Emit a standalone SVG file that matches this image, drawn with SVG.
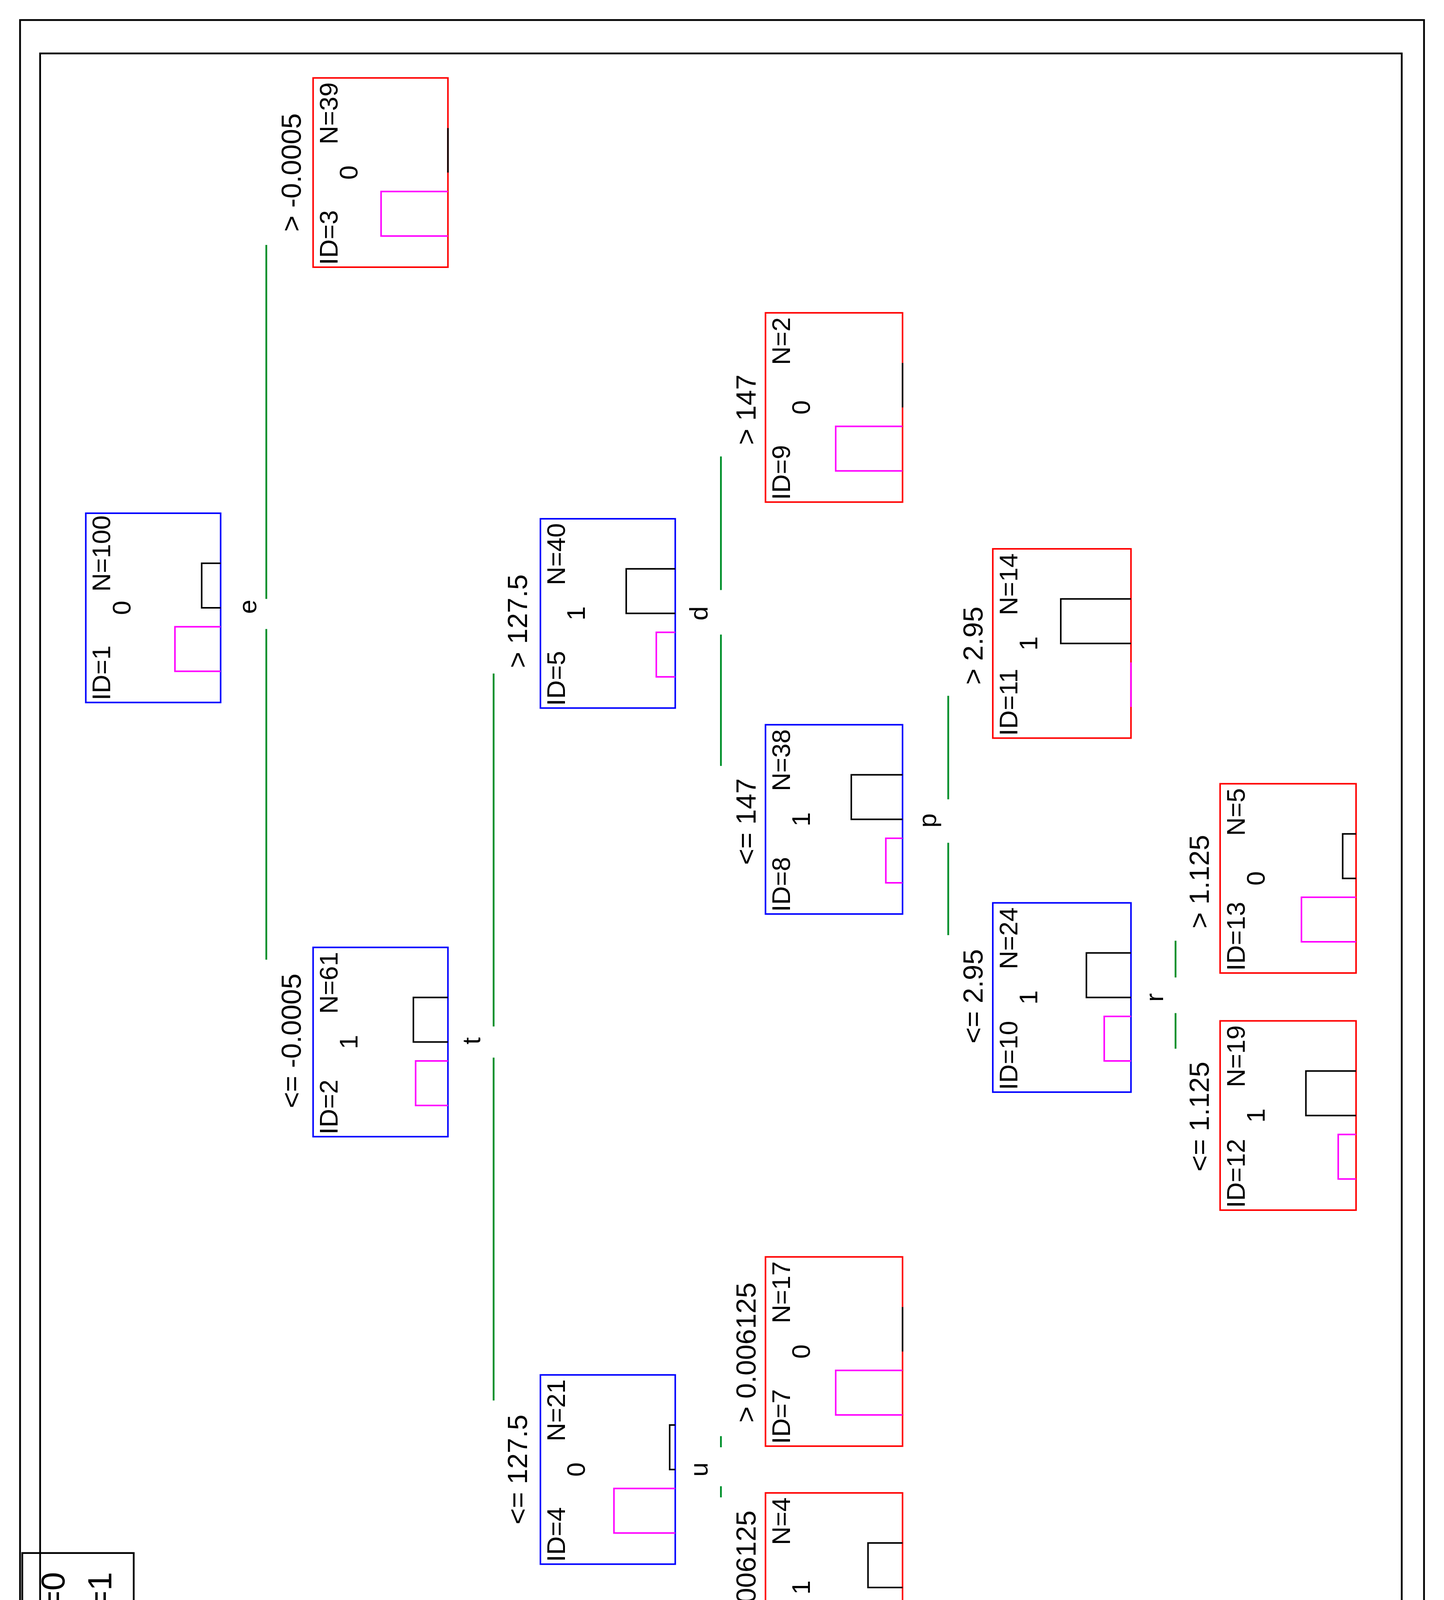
<svg xmlns="http://www.w3.org/2000/svg" width="3696" height="4469" viewBox="0 0 3696 4469">
<style>
text{font-family:"Liberation Sans",Arial,sans-serif;font-size:23px;fill:#000}
.lbl{font-size:25px}
.b{fill:none;stroke:#0000ff;stroke-width:1.4}
.r{fill:none;stroke:#ff0000;stroke-width:1.4}
.m{fill:none;stroke:#ff00ff;stroke-width:1.4}
.k{fill:none;stroke:#000;stroke-width:1.4}
.g{stroke:#008f2a;stroke-width:1.6}
.f{fill:none;stroke:#000;stroke-width:1.6}
</style>
<rect width="3696" height="4469" fill="#fff"/>
<g transform="scale(2.852 2.85)">
<rect class="f" x="18" y="18" width="1260" height="1535"/>
<rect class="f" x="36" y="48" width="1222" height="1485"/>
<g id="connectors">
<line class="g" x1="239" y1="220" x2="239" y2="538"/><line class="g" x1="239" y1="565" x2="239" y2="862"/>
<line class="g" x1="443" y1="605" x2="443" y2="922"/><line class="g" x1="443" y1="950" x2="443" y2="1258"/>
<line class="g" x1="647" y1="410" x2="647" y2="530"/><line class="g" x1="647" y1="570" x2="647" y2="688"/>
<line class="g" x1="647" y1="1290" x2="647" y2="1300"/><line class="g" x1="647" y1="1335" x2="647" y2="1345"/>
<line class="g" x1="851" y1="625" x2="851" y2="718"/><line class="g" x1="851" y1="757" x2="851" y2="840"/>
<line class="g" x1="1055" y1="845" x2="1055" y2="878"/><line class="g" x1="1055" y1="910" x2="1055" y2="942"/>
<g text-anchor="middle">
<text transform="translate(230,545) rotate(-90)">e</text>
<text transform="translate(431,935) rotate(-90)">t</text>
<text transform="translate(635,551) rotate(-90)">d</text>
<text transform="translate(635,1320) rotate(-90)">u</text>
<text transform="translate(840,737) rotate(-90)">p</text>
<text transform="translate(1044,896) rotate(-90)">r</text>
<text class="lbl" transform="translate(270,155) rotate(-90)">&gt; -0.0005</text>
<text class="lbl" transform="translate(270,935) rotate(-90)">&lt;= -0.0005</text>
<text class="lbl" transform="translate(473,558) rotate(-90)">&gt; 127.5</text>
<text class="lbl" transform="translate(473,1320) rotate(-90)">&lt;= 127.5</text>
<text class="lbl" transform="translate(678,368) rotate(-90)">&gt; 147</text>
<text class="lbl" transform="translate(678,738) rotate(-90)">&lt;= 147</text>
<text class="lbl" transform="translate(678,1215) rotate(-90)">&gt; 0.006125</text>
<text class="lbl" transform="translate(678,1427) rotate(-90)">&lt;= 0.006125</text>
<text class="lbl" transform="translate(882,580) rotate(-90)">&gt; 2.95</text>
<text class="lbl" transform="translate(882,895) rotate(-90)">&lt;= 2.95</text>
<text class="lbl" transform="translate(1085,792) rotate(-90)">&gt; 1.125</text>
<text class="lbl" transform="translate(1085,1003) rotate(-90)">&lt;= 1.125</text>
</g>
</g>
<g id="n1" transform="translate(77,461)"><rect class="b" width="121" height="170"/><path class="k" d="M121,45H104V85H121"/><path class="m" d="M121,102H80V142H121"/><text transform="translate(22,168) rotate(-90)">ID=1</text><text transform="translate(40,85) rotate(-90)" text-anchor="middle">0</text><text transform="translate(22,2) rotate(-90)" text-anchor="end">N=100</text></g>
<g id="n3" transform="translate(281,70)"><rect class="r" width="121" height="170"/><path class="k" d="M121,45V85"/><path class="m" d="M121,102H61V142H121"/><text transform="translate(22,168) rotate(-90)">ID=3</text><text transform="translate(40,85) rotate(-90)" text-anchor="middle">0</text><text transform="translate(22,4) rotate(-90)" text-anchor="end">N=39</text></g>
<g id="n2" transform="translate(281,851)"><rect class="b" width="121" height="170"/><path class="k" d="M121,45H90V85H121"/><path class="m" d="M121,102H92V142H121"/><text transform="translate(22,168) rotate(-90)">ID=2</text><text transform="translate(40,85) rotate(-90)" text-anchor="middle">1</text><text transform="translate(22,4) rotate(-90)" text-anchor="end">N=61</text></g>
<g id="n5" transform="translate(485,466)"><rect class="b" width="121" height="170"/><path class="k" d="M121,45H77V85H121"/><path class="m" d="M121,102H104V142H121"/><text transform="translate(22,168) rotate(-90)">ID=5</text><text transform="translate(40,85) rotate(-90)" text-anchor="middle">1</text><text transform="translate(22,4) rotate(-90)" text-anchor="end">N=40</text></g>
<g id="n4" transform="translate(485,1235)"><rect class="b" width="121" height="170"/><path class="k" d="M121,45H116V85H121"/><path class="m" d="M121,102H66V142H121"/><text transform="translate(22,168) rotate(-90)">ID=4</text><text transform="translate(40,85) rotate(-90)" text-anchor="middle">0</text><text transform="translate(22,4) rotate(-90)" text-anchor="end">N=21</text></g>
<g id="n9" transform="translate(687,281)"><rect class="r" width="123" height="170"/><path class="k" d="M123,45V85"/><path class="m" d="M123,102H63V142H123"/><text transform="translate(22,168) rotate(-90)">ID=9</text><text transform="translate(40,85) rotate(-90)" text-anchor="middle">0</text><text transform="translate(22,4) rotate(-90)" text-anchor="end">N=2</text></g>
<g id="n8" transform="translate(687,651)"><rect class="b" width="123" height="170"/><path class="k" d="M123,45H77V85H123"/><path class="m" d="M123,102H108V142H123"/><text transform="translate(22,168) rotate(-90)">ID=8</text><text transform="translate(40,85) rotate(-90)" text-anchor="middle">1</text><text transform="translate(22,4) rotate(-90)" text-anchor="end">N=38</text></g>
<g id="n7" transform="translate(687,1129)"><rect class="r" width="123" height="170"/><path class="k" d="M123,45V85"/><path class="m" d="M123,102H63V142H123"/><text transform="translate(22,168) rotate(-90)">ID=7</text><text transform="translate(40,85) rotate(-90)" text-anchor="middle">0</text><text transform="translate(22,4) rotate(-90)" text-anchor="end">N=17</text></g>
<g id="n6" transform="translate(687,1341)"><rect class="r" width="123" height="170"/><path class="k" d="M123,45H92V85H123"/><path class="m" d="M123,102H92V142H123"/><text transform="translate(22,168) rotate(-90)">ID=6</text><text transform="translate(40,85) rotate(-90)" text-anchor="middle">1</text><text transform="translate(22,4) rotate(-90)" text-anchor="end">N=4</text></g>
<g id="n11" transform="translate(891,493)"><rect class="r" width="124" height="170"/><path class="k" d="M124,45H61V85H124"/><path class="m" d="M124,102V142"/><text transform="translate(22,168) rotate(-90)">ID=11</text><text transform="translate(40,85) rotate(-90)" text-anchor="middle">1</text><text transform="translate(22,4) rotate(-90)" text-anchor="end">N=14</text></g>
<g id="n10" transform="translate(891,811)"><rect class="b" width="124" height="170"/><path class="k" d="M124,45H84V85H124"/><path class="m" d="M124,102H100V142H124"/><text transform="translate(22,168) rotate(-90)">ID=10</text><text transform="translate(40,85) rotate(-90)" text-anchor="middle">1</text><text transform="translate(22,4) rotate(-90)" text-anchor="end">N=24</text></g>
<g id="n13" transform="translate(1095,704)"><rect class="r" width="122" height="170"/><path class="k" d="M122,45H110V85H122"/><path class="m" d="M122,102H73V142H122"/><text transform="translate(22,168) rotate(-90)">ID=13</text><text transform="translate(40,85) rotate(-90)" text-anchor="middle">0</text><text transform="translate(22,4) rotate(-90)" text-anchor="end">N=5</text></g>
<g id="n12" transform="translate(1095,917)"><rect class="r" width="122" height="170"/><path class="k" d="M122,45H77V85H122"/><path class="m" d="M122,102H106V142H122"/><text transform="translate(22,168) rotate(-90)">ID=12</text><text transform="translate(40,85) rotate(-90)" text-anchor="middle">1</text><text transform="translate(22,4) rotate(-90)" text-anchor="end">N=19</text></g>
<g id="legend">
<rect class="f" x="20" y="1395" width="100" height="155" fill="#fff"/>
<line class="m" x1="48" y1="1480" x2="48" y2="1530"/>
<line class="k" x1="90" y1="1480" x2="90" y2="1530"/>
<text style="font-size:30px" transform="translate(58,1440) rotate(-90)" text-anchor="middle">w=0</text>
<text style="font-size:30px" transform="translate(100,1440) rotate(-90)" text-anchor="middle">w=1</text>
</g>
</g>
</svg>
